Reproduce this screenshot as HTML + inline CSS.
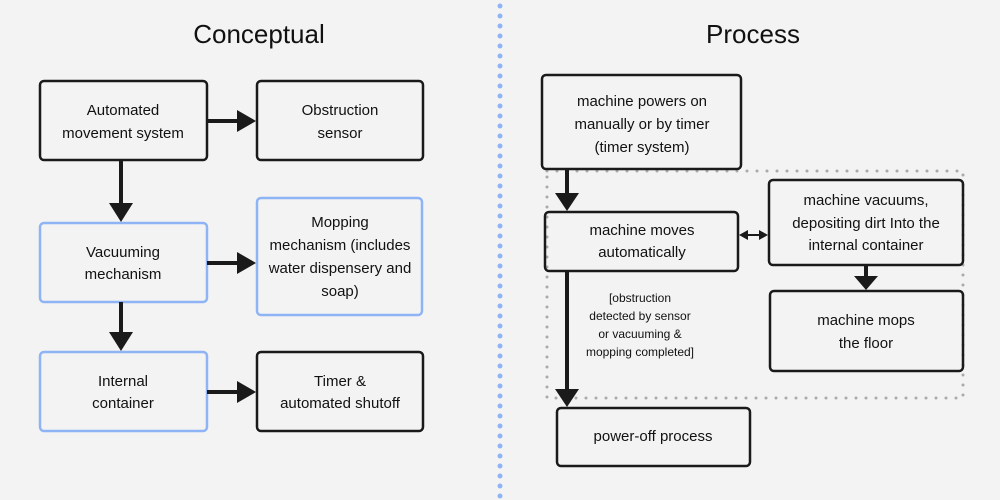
<!DOCTYPE html>
<html><head><style>body{margin:0;background:#f3f3f3}svg{display:block;font-family:"Liberation Sans",sans-serif}</style></head><body>
<svg width="1000" height="500" viewBox="0 0 1000 500">
<rect width="1000" height="500" fill="#f3f3f3"/>
<line x1="500" y1="6" x2="500" y2="500" stroke="#8fb4f5" stroke-width="5" stroke-linecap="round" stroke-dasharray="0 10"/>
<text x="259" y="43" font-size="26" text-anchor="middle" fill="#111">Conceptual</text>
<text x="753" y="43" font-size="26" text-anchor="middle" fill="#111">Process</text>
<g stroke-width="2.5" fill="none">
<rect x="40" y="81" width="167" height="79" rx="4" stroke="#1a1a1a"/>
<rect x="257" y="81" width="166" height="79" rx="4" stroke="#1a1a1a"/>
<rect x="40" y="223" width="167" height="79" rx="4" stroke="#8fb4f5"/>
<rect x="257" y="198" width="165" height="117" rx="4" stroke="#8fb4f5"/>
<rect x="40" y="352" width="167" height="79" rx="4" stroke="#8fb4f5"/>
<rect x="257" y="352" width="166" height="79" rx="4" stroke="#1a1a1a"/>
<rect x="547" y="171" width="416" height="227" stroke="#aaa" stroke-width="3" stroke-dasharray="0 10" stroke-linecap="round"/>
<rect x="542" y="75" width="199" height="94" rx="4" stroke="#1a1a1a"/>
<rect x="545" y="212" width="193" height="59" rx="4" stroke="#1a1a1a"/>
<rect x="769" y="180" width="194" height="85" rx="4" stroke="#1a1a1a"/>
<rect x="770" y="291" width="193" height="80" rx="4" stroke="#1a1a1a"/>
<rect x="557" y="408" width="193" height="58" rx="4" stroke="#1a1a1a"/>
</g>
<g stroke="#1a1a1a" stroke-width="4">
<line x1="207" y1="121" x2="240" y2="121"/><line x1="207" y1="263" x2="240" y2="263"/><line x1="207" y1="392" x2="240" y2="392"/>
<line x1="121" y1="160" x2="121" y2="206"/><line x1="121" y1="302" x2="121" y2="335"/>
<line x1="567" y1="169" x2="567" y2="196"/><line x1="567" y1="271" x2="567" y2="392"/>
<line x1="866" y1="265" x2="866" y2="278"/>
<line x1="745" y1="235" x2="762" y2="235" stroke-width="2"/>
</g>
<g fill="#1a1a1a">
<polygon points="237,110 256,121 237,132"/><polygon points="237,252 256,263 237,274"/><polygon points="237,381 256,392 237,403"/>
<polygon points="109,203 133,203 121,222"/><polygon points="109,332 133,332 121,351"/>
<polygon points="555,193 579,193 567,211"/><polygon points="555,389 579,389 567,407"/>
<polygon points="854,276 878,276 866,290"/>
<polygon points="739,235 748,230 748,240"/><polygon points="768,235 759,230 759,240"/>
</g>
<g font-size="15" text-anchor="middle" fill="#111">
<text x="123" y="115">Automated</text><text x="123" y="138">movement system</text>
<text x="340" y="115">Obstruction</text><text x="340" y="138">sensor</text>
<text x="123" y="257">Vacuuming</text><text x="123" y="279">mechanism</text>
<text x="340" y="227">Mopping</text><text x="340" y="250">mechanism (includes</text><text x="340" y="273">water dispensery and</text><text x="340" y="296">soap)</text>
<text x="123" y="386">Internal</text><text x="123" y="408">container</text>
<text x="340" y="386">Timer &amp;</text><text x="340" y="408">automated shutoff</text>
<text x="642" y="106">machine powers on</text><text x="642" y="129">manually or by timer</text><text x="642" y="152">(timer system)</text>
<text x="642" y="235">machine moves</text><text x="642" y="257">automatically</text>
<text x="866" y="205">machine vacuums,</text><text x="866" y="228">depositing dirt Into the</text><text x="866" y="250">internal container</text>
<text x="866" y="325">machine mops</text><text x="866" y="348">the floor</text>
<text x="653" y="441">power-off process</text>
</g>
<g font-size="12" text-anchor="middle" fill="#111">
<text x="640" y="302">[obstruction</text><text x="640" y="320">detected by sensor</text><text x="640" y="338">or vacuuming &amp;</text><text x="640" y="356">mopping completed]</text>
</g>
</svg>
</body></html>
